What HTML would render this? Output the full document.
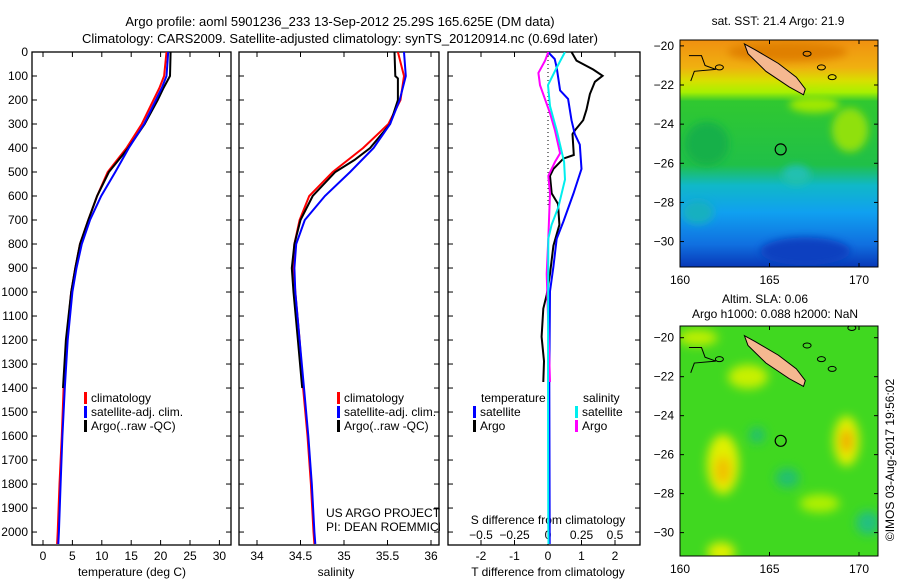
<!DOCTYPE html>
<html><head><meta charset="utf-8"><style>
body{margin:0;background:#fff;}
svg{display:block;font-family:"Liberation Sans",sans-serif;}
</style></head><body>
<svg id="fig" width="900" height="580" viewBox="0 0 900 580">
<defs>
<filter id="blur1" x="-50%" y="-50%" width="200%" height="200%"><feGaussianBlur stdDeviation="4"/></filter>
<filter id="blur2" x="-50%" y="-50%" width="200%" height="200%"><feGaussianBlur stdDeviation="5"/></filter>
<clipPath id="cm1"><rect x="680" y="40" width="198" height="227"/></clipPath>
<clipPath id="cm2"><rect x="680" y="326" width="198" height="230"/></clipPath>
<clipPath id="cp1"><rect x="32" y="52" width="199" height="493"/></clipPath>
<clipPath id="cp2"><rect x="239" y="52" width="200" height="493"/></clipPath>
<clipPath id="cp3"><rect x="448" y="52" width="192" height="493"/></clipPath>
<linearGradient id="sstg" x1="0" y1="0" x2="0" y2="1">
<stop offset="0" stop-color="#f09010"/><stop offset="0.12" stop-color="#f0b010"/>
<stop offset="0.18" stop-color="#d8e000"/><stop offset="0.23" stop-color="#a8f000"/>
<stop offset="0.27" stop-color="#30c830"/><stop offset="0.55" stop-color="#20c048"/>
<stop offset="0.64" stop-color="#10b8c8"/><stop offset="0.76" stop-color="#10a0f0"/>
<stop offset="0.9" stop-color="#1070e0"/><stop offset="1" stop-color="#0838b8"/>
</linearGradient>
</defs>
<text x="340" y="26" text-anchor="middle" font-size="13">Argo profile: aoml 5901236_233 13-Sep-2012 25.29S 165.625E (DM data)</text>
<text x="340" y="43" text-anchor="middle" font-size="13">Climatology: CARS2009. Satellite-adjusted climatology: synTS_20120914.nc (0.69d later)</text>
<g id="g1"></g><g id="g2"></g><g id="g3"></g>
<g id="maps"></g>
<text transform="translate(894,460) rotate(-90)" text-anchor="middle" font-size="12">©IMOS 03-Aug-2017 19:56:02</text>
</svg>
<script>
// ---- data ----
const tempDepths = [0,100,150,200,300,400,500,600,700,800,900,1000,1200,1400,1600,1800,2000,2050];
const tempClim   = [21,20.6,19.8,18.8,16.8,14.2,11,9.2,7.7,6.3,5.5,4.8,4.0,3.5,3.2,2.8,2.5,2.4];
const tempSat    = [21.3,21,20.2,19.2,17.2,14.6,12.3,9.9,8,6.6,5.7,5.0,4.2,3.7,3.3,3.0,2.7,2.6];
const argoDepths = [0,100,150,200,300,400,500,600,700,800,900,1000,1200,1400];
const tempArgo   = [21.7,21.6,20.5,19.5,17.3,14.5,11.2,9.2,7.7,6.3,5.5,4.8,3.9,3.4];
const salDepths  = [0,100,200,300,400,500,600,700,800,900,1000,1200,1400,1600,1800,2000,2050];
const salClim    = [35.62,35.69,35.65,35.51,35.22,34.87,34.6,34.49,34.43,34.42,34.44,34.49,34.53,34.58,34.62,34.65,34.66];
const salSat     = [35.69,35.71,35.64,35.53,35.34,35.07,34.78,34.55,34.45,34.43,34.44,34.49,34.54,34.59,34.63,34.66,34.67];
const salArgoD   = [0,100,110,200,300,400,450,500,600,700,800,900,1000,1200,1400];
const salArgo    = [35.58,35.59,35.62,35.62,35.53,35.3,35.12,34.9,34.64,34.5,34.43,34.4,34.42,34.47,34.52];
const dTsatD = [0,29,65,160,196,284,342,386,487,589,706,778,895,997,1360,2050];
const dTsat  = [0,0.2,0.26,0.36,0.6,0.7,0.8,0.95,1.0,0.76,0.46,0.26,0.16,0.06,0.04,0.05];
const dTargoD = [0,36,73,99,124,175,240,284,327,342,429,444,487,516,589,633,720,807,924,1011,1069,1186,1288,1375];
const dTargo  = [0.7,0.85,1.35,1.63,1.4,1.25,1.15,1.05,0.8,0.73,0.77,0.46,0.16,0.06,0.11,0.3,0.34,0.16,0.06,-0.04,-0.14,-0.19,-0.12,-0.14];
const dSsatD = [0,65,138,225,327,458,531,647,720,778,1360,1971,2050];
const dSsat  = [0.127,0.065,0,0.015,0.065,0.12,0.127,0.077,0.027,0.002,0,0.002,0.004];
const dSargoD = [0,36,87,138,255,327,422,458,516,589,778,924,1375];
const dSargo  = [0.002,-0.022,-0.072,-0.06,0.015,0.052,0.09,0.052,0.002,0.015,0.002,-0.01,0.015];
const depthTicks = [0,100,200,300,400,500,600,700,800,900,1000,1100,1200,1300,1400,1500,1600,1700,1800,1900,2000];
const tTicks = [0,5,10,15,20,25,30];
const sTicks = [34,34.5,35,35.5,36];
const dTTicks = [-2,-1,0,1,2];
const dSTicks = [-0.5,-0.25,0,0.25,0.5];
const dSTickLabels = ["\u22120.5","\u22120.25","0","0.25","0.5"];
const latTicks = [-20,-22,-24,-26,-28,-30];
const lonTicks = [160,165,170];

// ---- scales ----
const Y0=52, Y1=545, D0=0, D1=2054;
const yD = d => Y0 + (d-D0)/(D1-D0)*(Y1-Y0);
const xT = t => 43 + t*5.88;
const xS = s => 257 + (s-34)*87;
const xdT = t => 548 + t*33.5;
const xdS = s => 548 + s*134;
const NS='http://www.w3.org/2000/svg';
function mk(tag, attrs, parent){const e=document.createElementNS(NS,tag);for(const k in attrs)e.setAttribute(k,attrs[k]);parent.appendChild(e);return e;}
function txt(s,x,y,anchor,parent,size){const t=mk('text',{x:x,y:y,'text-anchor':anchor||'middle','font-size':size||12},parent);t.textContent=s;return t;}

function panel(g,x0,x1){
  const f=mk('rect',{x:x0,y:Y0,width:x1-x0,height:Y1-Y0,fill:'none',stroke:'#000','stroke-width':1.3},g);
  
  
  depthTicks.forEach(d=>{
    const y=yD(d);
    mk('line',{x1:x0,x2:x0+5,y1:y,y2:y,stroke:'#000'},g);
    mk('line',{x1:x1-5,x2:x1,y1:y,y2:y,stroke:'#000'},g);
  });
}
function series(g,xs,ds,fx,color,w,name,clip){
  const pts=xs.map((v,i)=>fx(v).toFixed(1)+','+yD(ds[i]).toFixed(1)).join(' ');
  const p=mk('polyline',{points:pts,fill:'none',stroke:color,'stroke-width':w,'clip-path':'url(#'+clip+')'},g);
  
  
}
function xticks(g,ticks,fx,labels,ly){
  ticks.forEach((t,i)=>{
    const x=fx(t);
    mk('line',{x1:x,x2:x,y1:Y0,y2:Y0+5,stroke:'#000'},g);
    mk('line',{x1:x,x2:x,y1:Y1-5,y2:Y1,stroke:'#000'},g);
    const l=txt(labels?labels[i]:String(t),x,ly,'middle',g);
    
    
  });
}
function legendEntry(g,x,y,color,label){
  mk('rect',{x:x,y:y-6,width:3,height:12,fill:color},g);
  const t=txt(label,x+7,y+4,'start',g);
  
  
}

// panel 1
const g1=document.getElementById('g1');
panel(g1,32,231);
depthTicks.forEach(d=>{const t=txt(String(d),28,yD(d)+4,'end',g1);
  
  });
xticks(g1,tTicks,xT,null,560);
txt('temperature (deg C)',132,576,'middle',g1);
series(g1,tempClim,tempDepths,xT,'#f00',2,'temp-climatology-line','cp1');
series(g1,tempArgo,argoDepths,xT,'#000',2,'temp-argo-line','cp1');
series(g1,tempSat,tempDepths,xT,'#00f',2,'temp-satellite-line','cp1');
legendEntry(g1,84,398,'#f00','climatology');
legendEntry(g1,84,412,'#00f','satellite-adj. clim.');
legendEntry(g1,84,426,'#000','Argo(..raw -QC)');

// panel 2
const g2=document.getElementById('g2');
panel(g2,239,439);
xticks(g2,sTicks,xS,null,560);
txt('salinity',336,576,'middle',g2);
series(g2,salClim,salDepths,xS,'#f00',2,'sal-climatology-line','cp2');
series(g2,salArgo,salArgoD,xS,'#000',2,'sal-argo-line','cp2');
series(g2,salSat,salDepths,xS,'#00f',2,'sal-satellite-line','cp2');
legendEntry(g2,337,398,'#f00','climatology');
legendEntry(g2,337,412,'#00f','satellite-adj. clim.');
legendEntry(g2,337,426,'#000','Argo(..raw -QC)');
txt('US ARGO PROJECT',326,517,'start',g2);
txt('PI: DEAN ROEMMICH',326,531,'start',g2);

// panel 3
const g3=document.getElementById('g3');
mk('rect',{x:440,y:50,width:8,height:497,fill:'#fff'},g3);
mk('rect',{x:448,y:Y0,width:192,height:Y1-Y0,fill:'#fff'},g3);
panel(g3,448,640);
xticks(g3,dTTicks,xdT,null,560);
dSTicks.forEach((t,i)=>{const l=txt(dSTickLabels[i],xdS(t),539,'middle',g3);
  
  });
txt('S difference from climatology',548,524,'middle',g3);
txt('T difference from climatology',548,576,'middle',g3);
const zl=mk('line',{x1:xdT(0),x2:xdT(0),y1:yD(0),y2:yD(650),stroke:'#000','stroke-dasharray':'1,3'},g3);


series(g3,dTargo,dTargoD,xdT,'#000',2,'dT-argo-line','cp3');
series(g3,dTsat,dTsatD,xdT,'#00f',2,'dT-satellite-line','cp3');
series(g3,dSargo,dSargoD,xdS,'#f0f',2,'dS-argo-line','cp3');
series(g3,dSsat,dSsatD,xdS,'#0ee',2,'dS-satellite-line','cp3');
txt('temperature',481,402,'start',g3);
legendEntry(g3,473,412,'#00f','satellite');
legendEntry(g3,473,426,'#000','Argo');
txt('salinity',583,402,'start',g3);
legendEntry(g3,575,412,'#0ee','satellite');
legendEntry(g3,575,426,'#f0f','Argo');

// maps
const gm=document.getElementById('maps');
function mapFrame(top,bottom,latTop,latBot,clip,kind){
  const lx=lon=>680+(lon-160)*17.9;
  const ly=lat=>top+(latTop-lat)/(latTop-latBot)*(bottom-top);
  const g=mk('g',{'clip-path':'url(#'+clip+')'},gm);
  
  
  if(kind==='sst'){
    mk('rect',{x:680,y:top,width:198,height:bottom-top,fill:'url(#sstg)'},g);
    const bl=mk('g',{filter:'url(#blur1)'},g);
    mk('ellipse',{cx:lx(166),cy:ly(-20.3),rx:60,ry:10,fill:'#e08000'},bl);
    mk('ellipse',{cx:lx(169.5),cy:ly(-24.3),rx:18,ry:22,fill:'#90e010'},bl);
    mk('ellipse',{cx:lx(167.5),cy:ly(-23),rx:25,ry:8,fill:'#a0e800'},bl);
    mk('ellipse',{cx:lx(161.5),cy:ly(-25),rx:22,ry:22,fill:'#18b048'},bl);
    mk('ellipse',{cx:lx(166.5),cy:ly(-26.6),rx:14,ry:10,fill:'#20c0b0'},bl);
    mk('ellipse',{cx:lx(161),cy:ly(-28.5),rx:16,ry:12,fill:'#18b0c0'},bl);
    mk('ellipse',{cx:lx(167),cy:ly(-30.5),rx:45,ry:14,fill:'#0840c0'},bl);
  } else {
    mk('rect',{x:680,y:top,width:198,height:bottom-top,fill:'#40d820'},g);
    const bl=mk('g',{filter:'url(#blur2)'},g);
    mk('ellipse',{cx:lx(162.4),cy:ly(-26.5),rx:16,ry:30,fill:'#e0f000'},bl);
    mk('ellipse',{cx:lx(162.4),cy:ly(-26.8),rx:8,ry:14,fill:'#f0c000'},bl);
    mk('ellipse',{cx:lx(169.3),cy:ly(-25.3),rx:13,ry:25,fill:'#e0f000'},bl);
    mk('ellipse',{cx:lx(169.3),cy:ly(-25.3),rx:6,ry:12,fill:'#f0a800'},bl);
    mk('ellipse',{cx:lx(163.8),cy:ly(-22),rx:20,ry:12,fill:'#c8f000'},bl);
    mk('ellipse',{cx:lx(167.8),cy:ly(-28.5),rx:20,ry:9,fill:'#b0f000'},bl);
    mk('ellipse',{cx:lx(162.3),cy:ly(-31),rx:14,ry:10,fill:'#e0f000'},bl);
    mk('ellipse',{cx:lx(166),cy:ly(-27.2),rx:12,ry:10,fill:'#20c070'},bl);
    mk('ellipse',{cx:lx(164.3),cy:ly(-25),rx:8,ry:8,fill:'#20c070'},bl);
    mk('ellipse',{cx:lx(170.5),cy:ly(-29.5),rx:12,ry:12,fill:'#20c080'},bl);
    mk('ellipse',{cx:lx(161),cy:ly(-20),rx:20,ry:8,fill:'#c0f000'},bl);
  }
  const isl=mk('polygon',{points:[[163.6,-19.9],[164.2,-20.2],[165.5,-20.9],[166.5,-21.6],[167,-22.2],[166.9,-22.5],[166.1,-22.1],[164.8,-21.3],[163.8,-20.4]].map(p=>lx(p[0])+','+ly(p[1])).join(' '),fill:'#f5b890',stroke:'#000','stroke-width':1},g);
  
  
  mk('polyline',{points:[[160.5,-20.5],[161.2,-20.5],[161.4,-21],[162,-21.2],[160.8,-21.3],[160.6,-21.8]].map(p=>lx(p[0])+','+ly(p[1])).join(' '),fill:'none',stroke:'#000'},g);
  [[167.1,-20.4],[167.9,-21.1],[168.5,-21.6],[162.2,-21.1],[169.6,-19.5]].forEach(p=>mk('ellipse',{cx:lx(p[0]),cy:ly(p[1]),rx:4,ry:2.5,fill:'none',stroke:'#000'},g));
  const c=mk('circle',{cx:lx(165.625),cy:ly(-25.29),r:5.5,fill:'none',stroke:'#000','stroke-width':1.2},gm);
  
  
  mk('rect',{x:680,y:top,width:198,height:bottom-top,fill:'none',stroke:'#000'},gm);
  latTicks.forEach(l=>{const y=ly(l);
    mk('line',{x1:680,x2:684,y1:y,y2:y,stroke:'#000'},gm);
    mk('line',{x1:874,x2:878,y1:y,y2:y,stroke:'#000'},gm);
    const t=txt('\u2212'+String(-l),674,y+4,'end',gm);
    
    });
  lonTicks.forEach(l=>{const x=lx(l);
    mk('line',{x1:x,x2:x,y1:top,y2:top+4,stroke:'#000'},gm);
    mk('line',{x1:x,x2:x,y1:bottom-4,y2:bottom,stroke:'#000'},gm);
    const t=txt(String(l),x,bottom+17,'middle',gm);
    
    });
}
mapFrame(40,267,-19.7,-31.3,'cm1','sst');
mapFrame(326,556,-19.4,-31.2,'cm2','sla');
txt('sat. SST: 21.4 Argo: 21.9',778,25,'middle',gm);
txt('Altim. SLA: 0.06',765,303,'middle',gm);
txt('Argo h1000: 0.088 h2000: NaN',775,318,'middle',gm);
</script>
</body></html>
